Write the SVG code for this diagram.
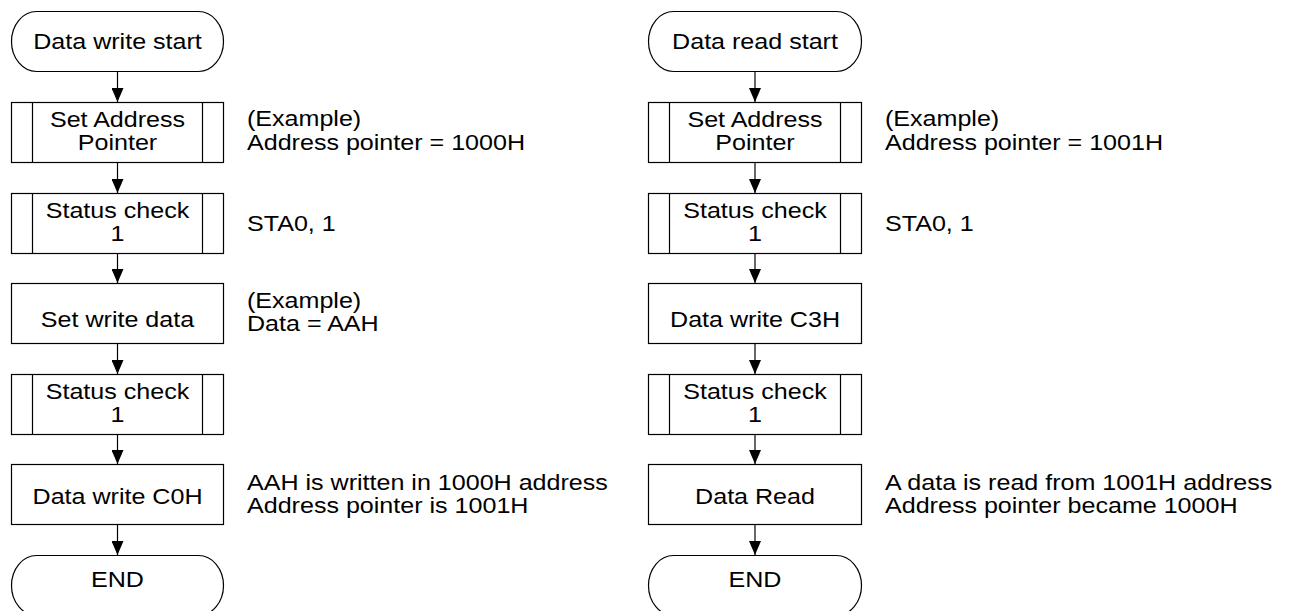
<svg xmlns="http://www.w3.org/2000/svg" width="1289" height="611" viewBox="0 0 1289 611">
  <style>
    .shape { fill: #ffffff; stroke: #000000; stroke-width: 1.2; }
    .bar { stroke: #000000; stroke-width: 1.2; fill: none; }
    .flow { stroke: #000000; stroke-width: 1.2; fill: none; marker-end: url(#arrow); }
    text { font-family: "Liberation Sans", Arial, sans-serif; font-size: 22px; fill: #000000; }
    .c { text-anchor: middle; }
  </style>
  <defs>
    <marker id="arrow" markerUnits="userSpaceOnUse" viewBox="0 0 14 12" refX="14" refY="6" markerWidth="14" markerHeight="12" orient="auto">
      <path d="M0,0 L14,6 L0,12 Z" fill="#000000"/>
    </marker>
  </defs>

  <rect width="1289" height="611" fill="#ffffff"/>

  <!-- connectors -->
  <g id="connectors">
    <line class="flow" x1="117.5" y1="71" x2="117.5" y2="102"/>
    <line class="flow" x1="117.5" y1="163" x2="117.5" y2="193"/>
    <line class="flow" x1="117.5" y1="253" x2="117.5" y2="283"/>
    <line class="flow" x1="117.5" y1="343" x2="117.5" y2="374"/>
    <line class="flow" x1="117.5" y1="434" x2="117.5" y2="464"/>
    <line class="flow" x1="117.5" y1="524" x2="117.5" y2="555"/>

    <line class="flow" x1="755" y1="71" x2="755" y2="102"/>
    <line class="flow" x1="755" y1="163" x2="755" y2="193"/>
    <line class="flow" x1="755" y1="253" x2="755" y2="283"/>
    <line class="flow" x1="755" y1="343" x2="755" y2="374"/>
    <line class="flow" x1="755" y1="434" x2="755" y2="464"/>
    <line class="flow" x1="755" y1="524" x2="755" y2="555"/>
  </g>

  <!-- write sequence -->
  <g id="w-start">
    <rect class="shape" x="11.5" y="11.5" width="212" height="60" rx="25" ry="30"/>
    <text class="c" transform="translate(117.5,49) scale(1.14,1)">Data write start</text>
  </g>
  <g id="w-setaddr">
    <rect class="shape" x="11.5" y="102.5" width="212" height="60"/>
    <line class="bar" x1="32.5" y1="102.5" x2="32.5" y2="162.5"/>
    <line class="bar" x1="202.5" y1="102.5" x2="202.5" y2="162.5"/>
    <text class="c" transform="translate(117.5,127) scale(1.14,1)">Set Address</text>
    <text class="c" transform="translate(117.5,150) scale(1.14,1)">Pointer</text>
  </g>
  <g id="w-status1">
    <rect class="shape" x="11.5" y="193.5" width="212" height="60"/>
    <line class="bar" x1="32.5" y1="193.5" x2="32.5" y2="253.5"/>
    <line class="bar" x1="202.5" y1="193.5" x2="202.5" y2="253.5"/>
    <text class="c" transform="translate(117.5,218) scale(1.14,1)">Status check</text>
    <text class="c" transform="translate(117.5,241) scale(1.14,1)">1</text>
  </g>
  <g id="w-setdata">
    <rect class="shape" x="11.5" y="283.5" width="212" height="60"/>
    <text class="c" transform="translate(117.5,327) scale(1.14,1)">Set write data</text>
  </g>
  <g id="w-status2">
    <rect class="shape" x="11.5" y="374.5" width="212" height="60"/>
    <line class="bar" x1="32.5" y1="374.5" x2="32.5" y2="434.5"/>
    <line class="bar" x1="202.5" y1="374.5" x2="202.5" y2="434.5"/>
    <text class="c" transform="translate(117.5,399) scale(1.14,1)">Status check</text>
    <text class="c" transform="translate(117.5,422) scale(1.14,1)">1</text>
  </g>
  <g id="w-write">
    <rect class="shape" x="11.5" y="464.5" width="212" height="60"/>
    <text class="c" transform="translate(117.5,504) scale(1.14,1)">Data write C0H</text>
  </g>
  <g id="w-end">
    <rect class="shape" x="11.5" y="555.5" width="212" height="60" rx="25" ry="30"/>
    <text class="c" transform="translate(117.5,587) scale(1.14,1)">END</text>
  </g>

  <!-- write notes -->
  <g id="w-notes">
    <text transform="translate(247,126) scale(1.14,1)">(Example)</text>
    <text transform="translate(247,150) scale(1.14,1)">Address pointer = 1000H</text>
    <text transform="translate(247,231) scale(1.14,1)">STA0, 1</text>
    <text transform="translate(247,308) scale(1.14,1)">(Example)</text>
    <text transform="translate(247,331) scale(1.14,1)">Data = AAH</text>
    <text transform="translate(247,490) scale(1.14,1)">AAH is written in 1000H address</text>
    <text transform="translate(247,513) scale(1.14,1)">Address pointer is 1001H</text>
  </g>

  <!-- read sequence -->
  <g id="r-start">
    <rect class="shape" x="648.5" y="11.5" width="213" height="60" rx="25" ry="30"/>
    <text class="c" transform="translate(755,49) scale(1.14,1)">Data read start</text>
  </g>
  <g id="r-setaddr">
    <rect class="shape" x="648.5" y="102.5" width="213" height="60"/>
    <line class="bar" x1="669.5" y1="102.5" x2="669.5" y2="162.5"/>
    <line class="bar" x1="840.5" y1="102.5" x2="840.5" y2="162.5"/>
    <text class="c" transform="translate(755,127) scale(1.14,1)">Set Address</text>
    <text class="c" transform="translate(755,150) scale(1.14,1)">Pointer</text>
  </g>
  <g id="r-status1">
    <rect class="shape" x="648.5" y="193.5" width="213" height="60"/>
    <line class="bar" x1="669.5" y1="193.5" x2="669.5" y2="253.5"/>
    <line class="bar" x1="840.5" y1="193.5" x2="840.5" y2="253.5"/>
    <text class="c" transform="translate(755,218) scale(1.14,1)">Status check</text>
    <text class="c" transform="translate(755,241) scale(1.14,1)">1</text>
  </g>
  <g id="r-write">
    <rect class="shape" x="648.5" y="283.5" width="213" height="60"/>
    <text class="c" transform="translate(755,327) scale(1.14,1)">Data write C3H</text>
  </g>
  <g id="r-status2">
    <rect class="shape" x="648.5" y="374.5" width="213" height="60"/>
    <line class="bar" x1="669.5" y1="374.5" x2="669.5" y2="434.5"/>
    <line class="bar" x1="840.5" y1="374.5" x2="840.5" y2="434.5"/>
    <text class="c" transform="translate(755,399) scale(1.14,1)">Status check</text>
    <text class="c" transform="translate(755,422) scale(1.14,1)">1</text>
  </g>
  <g id="r-read">
    <rect class="shape" x="648.5" y="464.5" width="213" height="60"/>
    <text class="c" transform="translate(755,504) scale(1.14,1)">Data Read</text>
  </g>
  <g id="r-end">
    <rect class="shape" x="648.5" y="555.5" width="213" height="60" rx="25" ry="30"/>
    <text class="c" transform="translate(755,587) scale(1.14,1)">END</text>
  </g>

  <!-- read notes -->
  <g id="r-notes">
    <text transform="translate(885,126) scale(1.14,1)">(Example)</text>
    <text transform="translate(885,150) scale(1.14,1)">Address pointer = 1001H</text>
    <text transform="translate(885,231) scale(1.14,1)">STA0, 1</text>
    <text transform="translate(885,490) scale(1.14,1)">A data is read from 1001H address</text>
    <text transform="translate(885,513) scale(1.14,1)">Address pointer became 1000H</text>
  </g>
</svg>
